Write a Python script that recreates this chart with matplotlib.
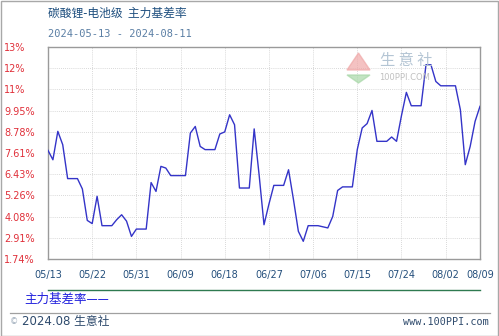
import numpy as np
import pandas as pd
import matplotlib
matplotlib.use("Agg")
import matplotlib.pyplot as plt
from matplotlib.patches import Polygon, Rectangle
from matplotlib.lines import Line2D

plt.rcParams['font.family'] = ['DejaVu Sans', 'Noto Sans CJK SC']

# daily values (weekends carried over), 2024-05-13 .. 2024-08-09
dates = pd.date_range("2024-05-13", "2024-08-09", freq="D")
basis_rate = [
    7.51, 7.01, 8.52, 7.81, 6.01, 6.01, 6.01,
    5.46, 3.79, 3.62, 5.07, 3.51, 3.51, 3.51,
    3.83, 4.09, 3.75, 2.94, 3.33, 3.33, 3.33,
    5.80, 5.33, 6.66, 6.57, 6.17, 6.17, 6.17,
    6.17, 8.43, 8.78, 7.72, 7.55, 7.55, 7.55,
    8.38, 8.49, 9.40, 8.87, 5.51, 5.51, 5.51,
    8.65, 6.22, 3.56, 4.65, 5.65, 5.65, 5.65,
    6.48, 4.90, 3.21, 2.68, 3.51, 3.51, 3.51,
    3.45, 3.39, 4.00, 5.38, 5.57, 5.57, 5.57,
    7.55, 8.70, 8.93, 9.63, 7.99, 7.99, 7.99,
    8.22, 7.99, 9.35, 10.59, 9.88, 9.88, 9.88,
    12.06, 12.06, 11.17, 10.94, 10.94, 10.94, 10.94,
    9.67, 6.75, 7.72, 9.05, 9.85,
]

y_labels = ["1.74%", "2.91%", "4.08%", "5.26%", "6.43%", "7.61%",
            "8.78%", "9.95%", "11%", "12%", "13%"]
x_labels = ["05/13", "05/22", "05/31", "06/09", "06/18", "06/27",
            "07/06", "07/15", "07/24", "08/02", "08/09"]
x_tick_dates = pd.to_datetime(["2024-" + s.replace("/", "-") for s in x_labels])

title = "碳酸锂-电池级  主力基差率"
subtitle = "2024-05-13 - 2024-08-11"

W, H = 499, 336
fig = plt.figure(figsize=(W / 100, H / 100), dpi=100)
ax = fig.add_axes([48 / W, 1 - 259 / H, 432 / W, 212 / H])

ax.plot(dates, basis_rate, color="#3434c8", lw=1.0, zorder=3)

y_ticks = np.linspace(1.74, 13, 11)
ax.set_ylim(1.74, 13)
ax.set_yticks(y_ticks)
ax.set_yticklabels(y_labels)
ax.set_xlim(dates[0], dates[-1])
ax.set_xticks(x_tick_dates)
ax.set_xticklabels(x_labels)

ax.tick_params(axis="y", length=0, pad=31.5, labelsize=7, labelcolor="#e0303a")
for t in ax.get_yticklabels():
    t.set_horizontalalignment("left")
ax.tick_params(axis="x", length=0, pad=8, labelsize=7, labelcolor="#244f7c")

ax.grid(True, color="#cccccc", linestyle=(0, (1, 1.5)), linewidth=0.6)
for s in ax.spines.values():
    s.set_color("#9a9a9a")
    s.set_linewidth(1.0)

# titles
fig.text(48 / W, 1 - 13 / H, title, fontsize=8.5, color="#1d4e7e",
         family=['Noto Sans CJK SC', 'DejaVu Sans'], va="center")
fig.text(48 / W, 1 - 34 / H, subtitle, fontsize=7.5, color="#5a7ea4",
         family="DejaVu Sans Mono", va="center")

# watermark
fig.text(406 / W, 1 - 61 / H, "生 意 社", fontsize=11, color="#b4c5d4",
         family=['Noto Sans CJK SC'], ha="center", va="center")
fig.text(405 / W, 1 - 77 / H, "100PPI.COM", fontsize=6, color="#c0c0c0",
         ha="center", va="center")
fig.patches.append(Polygon([[347 / W, 1 - 70 / H], [370 / W, 1 - 70 / H], [358.5 / W, 1 - 53 / H]],
                           closed=True, transform=fig.transFigure, color="#f0a8a8", alpha=0.7))
fig.patches.append(Polygon([[347 / W, 1 - 75 / H], [370 / W, 1 - 75 / H], [358.5 / W, 1 - 83 / H]],
                           closed=True, transform=fig.transFigure, color="#a8d8a8", alpha=0.7))

# legend area and footer
fig.add_artist(Line2D([48 / W, 480 / W], [1 - 290 / H, 1 - 290 / H], color="#2e7a50", lw=1.0))
fig.text(24 / W, 1 - 299 / H, "主力基差率——", fontsize=9, color="#2222dd",
         family=['Noto Sans CJK SC', 'DejaVu Sans'], va="center")
fig.add_artist(Line2D([10 / W, 490 / W], [1 - 313 / H, 1 - 313 / H], color="#a0a0a0", lw=0.9))
fig.text(10 / W, 1 - 322 / H, "©", fontsize=6, color="#9aa8b8", va="center")
fig.text(22 / W, 1 - 322 / H, "2024.08 生意社", fontsize=8.5, color="#2e4a6c",
         family=['DejaVu Sans', 'Noto Sans CJK SC'], va="center")
fig.text(489 / W, 1 - 322 / H, "www.100PPI.com", fontsize=7.3, color="#2e4a6c",
         family="DejaVu Sans Mono", ha="right", va="center")

fig.patches.append(Rectangle((0.5 / W, 0.5 / H), 1 - 1.5 / W, 1 - 1.5 / H, transform=fig.transFigure,
                             fill=False, edgecolor="#a8a8a8", lw=1.0))

fig.savefig("out.png", dpi=100)
